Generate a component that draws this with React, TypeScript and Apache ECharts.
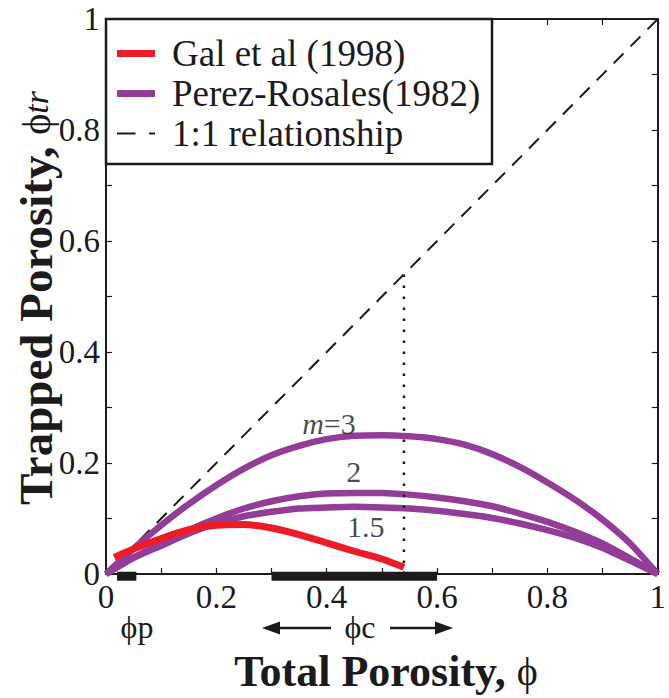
import React, { useEffect, useRef } from "react";
import * as echarts from "echarts";

// ---- data ----
const porosityGrid = [0, 0.05, 0.1, 0.15, 0.2, 0.25, 0.3, 0.35, 0.4, 0.45, 0.5, 0.55, 0.6, 0.65, 0.7, 0.75, 0.8, 0.85, 0.9, 0.95, 1];
const perezM3 = [0, 0.046, 0.088, 0.126, 0.16, 0.19, 0.214, 0.231, 0.243, 0.249, 0.25, 0.248, 0.243, 0.233, 0.216, 0.193, 0.165, 0.134, 0.098, 0.055, 0];
const perezM2 = [0, 0.03, 0.054, 0.079, 0.1, 0.118, 0.131, 0.14, 0.145, 0.146, 0.146, 0.143, 0.138, 0.131, 0.122, 0.109, 0.094, 0.076, 0.055, 0.028, 0];
const perezM15 = [0, 0.029, 0.051, 0.073, 0.091, 0.104, 0.112, 0.118, 0.12, 0.121, 0.12, 0.118, 0.114, 0.108, 0.101, 0.091, 0.079, 0.065, 0.047, 0.024, 0];
const galX = [0.015, 0.05, 0.1, 0.15, 0.2, 0.25, 0.3, 0.35, 0.4, 0.45, 0.5, 0.54];
const galY = [0.03, 0.045, 0.064, 0.08, 0.088, 0.089, 0.083, 0.071, 0.056, 0.041, 0.027, 0.012];
const oneToOneX = [0, 1];
const oneToOneY = [0, 1];
const cutoffX = 0.54;
const barRanges = [[0.02, 0.055], [0.3, 0.6]];
const barLevel = -0.004;
const curveLabels = ["m=3", "2", "1.5"];
const curveLabelX = [0.404, 0.449, 0.471];
const curveLabelY = [0.272, 0.184, 0.085];
const legendNames = ["Gal et al (1998)", "Perez-Rosales(1982)", "1:1 relationship"];

const SERIF = "Liberation Serif";
const INK = "#1c1a1a";
const RED = "#ed1c24";
const PURPLE = "#933d99";

function axisCommon(showLabel: boolean, pos: string) {
  return {
    type: "value",
    min: 0,
    max: 1,
    interval: 0.2,
    position: pos,
    axisLine: { show: true, onZero: false, lineStyle: { color: INK, width: 2 } },
    axisTick: { show: true, inside: true, length: 6, lineStyle: { color: INK, width: 1.2 } },
    minorTick: { show: true, splitNumber: 2, length: 6, lineStyle: { color: INK, width: 1.2 } },
    splitLine: { show: false },
    minorSplitLine: { show: false },
    axisLabel: {
      show: showLabel,
      fontFamily: SERIF,
      fontSize: 33,
      color: INK,
      margin: 6,
    },
  };
}

export default function App() {
  const ref = useRef<HTMLDivElement>(null);
  useEffect(() => {
    if (!ref.current) return;
    const chart = echarts.init(ref.current, null, { renderer: "svg" });

    const perezSets = [perezM3, perezM2, perezM15];
    const perezSeries = perezSets.map((vals) => ({
      type: "line",
      name: legendNames[1],
      data: porosityGrid.map((x, i) => [x, vals[i]]),
      smooth: 0.2,
      symbol: "none",
      z: 3,
      color: PURPLE,
      itemStyle: { color: PURPLE },
      lineStyle: { color: PURPLE, width: 6.5 },
    }));

    const barSeries = barRanges.map((r) => ({
      type: "line",
      data: [
        [r[0], barLevel],
        [r[1], barLevel],
      ],
      symbol: "none",
      clip: false,
      z: 6,
      lineStyle: { color: INK, width: 9, cap: "butt" },
      silent: true,
    }));

    const option = {
      animation: false,
      grid: { left: 106, right: 9, top: 19, bottom: 124, containLabel: false },
      xAxis: [axisCommon(true, "bottom"), axisCommon(false, "top")],
      yAxis: [axisCommon(true, "left"), axisCommon(false, "right")],
      legend: {
        show: true,
        orient: "vertical",
        left: 112,
        top: 30,
        itemWidth: 38,
        itemHeight: 7,
        itemGap: 3,
        z: 10,
        itemStyle: { borderWidth: 0 },
        data: [
          { name: legendNames[0], icon: "rect" },
          { name: legendNames[1], icon: "rect" },
          { name: legendNames[2], icon: "path://M0,0h19v2h-19zM33,0h6v2h-6z" },
        ],
        selectedMode: false,
        textStyle: {
          fontFamily: SERIF,
          fontSize: 37,
          color: INK,
          lineHeight: 33,
          padding: [0, 0, 0, 12],
        },
      },
      graphic: [
        {
          type: "rect",
          z: 8,
          shape: { x: 106, y: 19, width: 386, height: 145 },
          style: { fill: "#ffffff", stroke: INK, lineWidth: 2.5 },
        },
        {
          type: "text",
          x: 36,
          y: 298,
          rotation: Math.PI / 2,
          style: {
            text: "{b|Trapped Porosity, }{p|ϕ}{i|tr}",
            textAlign: "center",
            textVerticalAlign: "middle",
            fill: INK,
            rich: {
              b: { fontFamily: SERIF, fontWeight: "bold", fontSize: 47, fill: INK },
              p: { fontFamily: SERIF, fontSize: 40, fill: INK },
              i: { fontFamily: SERIF, fontStyle: "italic", fontSize: 34, fill: INK },
            },
          },
        },
        {
          type: "text",
          x: 386,
          y: 671,
          style: {
            text: "{b|Total Porosity, }{p|ϕ}",
            textAlign: "center",
            textVerticalAlign: "middle",
            fill: INK,
            rich: {
              b: { fontFamily: SERIF, fontWeight: "bold", fontSize: 44, fill: INK },
              p: { fontFamily: SERIF, fontSize: 40, fill: INK },
            },
          },
        },
        {
          type: "text",
          x: 137,
          y: 627,
          style: {
            text: "ϕp",
            fontFamily: SERIF,
            fontSize: 32,
            fill: INK,
            textAlign: "center",
            textVerticalAlign: "middle",
          },
        },
        {
          type: "text",
          x: 360,
          y: 627,
          style: {
            text: "ϕc",
            fontFamily: SERIF,
            fontSize: 32,
            fill: INK,
            textAlign: "center",
            textVerticalAlign: "middle",
          },
        },
        { type: "line", shape: { x1: 276, y1: 628, x2: 331, y2: 628 }, style: { stroke: INK, lineWidth: 2.5 } },
        { type: "polygon", shape: { points: [[262, 628], [280, 621.5], [280, 634.5]] }, style: { fill: INK } },
        { type: "line", shape: { x1: 390, y1: 628, x2: 440, y2: 628 }, style: { stroke: INK, lineWidth: 2.5 } },
        { type: "polygon", shape: { points: [[453, 628], [435, 621.5], [435, 634.5]] }, style: { fill: INK } },
      ],
      series: [
        {
          type: "line",
          name: legendNames[2],
          data: oneToOneX.map((x, i) => [x, oneToOneY[i]]),
          symbol: "none",
          z: 2,
          color: INK,
          itemStyle: { color: INK },
          lineStyle: { color: INK, width: 2, type: [14, 10] },
        },
        ...perezSeries,
        {
          type: "line",
          name: legendNames[0],
          data: galX.map((x, i) => [x, galY[i]]),
          smooth: 0.3,
          symbol: "none",
          z: 4,
          color: RED,
          itemStyle: { color: RED },
          lineStyle: { color: RED, width: 7, cap: "butt" },
        },
        {
          type: "line",
          data: [
            [cutoffX, 0],
            [cutoffX, cutoffX],
          ],
          symbol: "none",
          z: 5,
          lineStyle: { color: INK, width: 2.5, type: [2.5, 8.5], cap: "butt" },
          silent: true,
        },
        ...barSeries,
        {
          type: "scatter",
          data: curveLabels.map((t, i) => [curveLabelX[i], curveLabelY[i], t]),
          symbolSize: 0,
          z: 7,
          label: {
            show: true,
            position: "inside",
            formatter: (p: any) => String(p.data[2]).replace("m", "{i|m}"),
            fontFamily: SERIF,
            fontSize: 30,
            color: INK,
            rich: {
              i: { fontFamily: SERIF, fontStyle: "italic", fontSize: 30, color: INK },
            },
          },
          silent: true,
        },
      ],
    };

    chart.setOption(option as any);
    return () => chart.dispose();
  }, []);

  return (
    <div
      ref={ref}
      style={{ position: "fixed", left: 0, top: 0, width: 669, height: 698, background: "#ffffff" }}
    />
  );
}
